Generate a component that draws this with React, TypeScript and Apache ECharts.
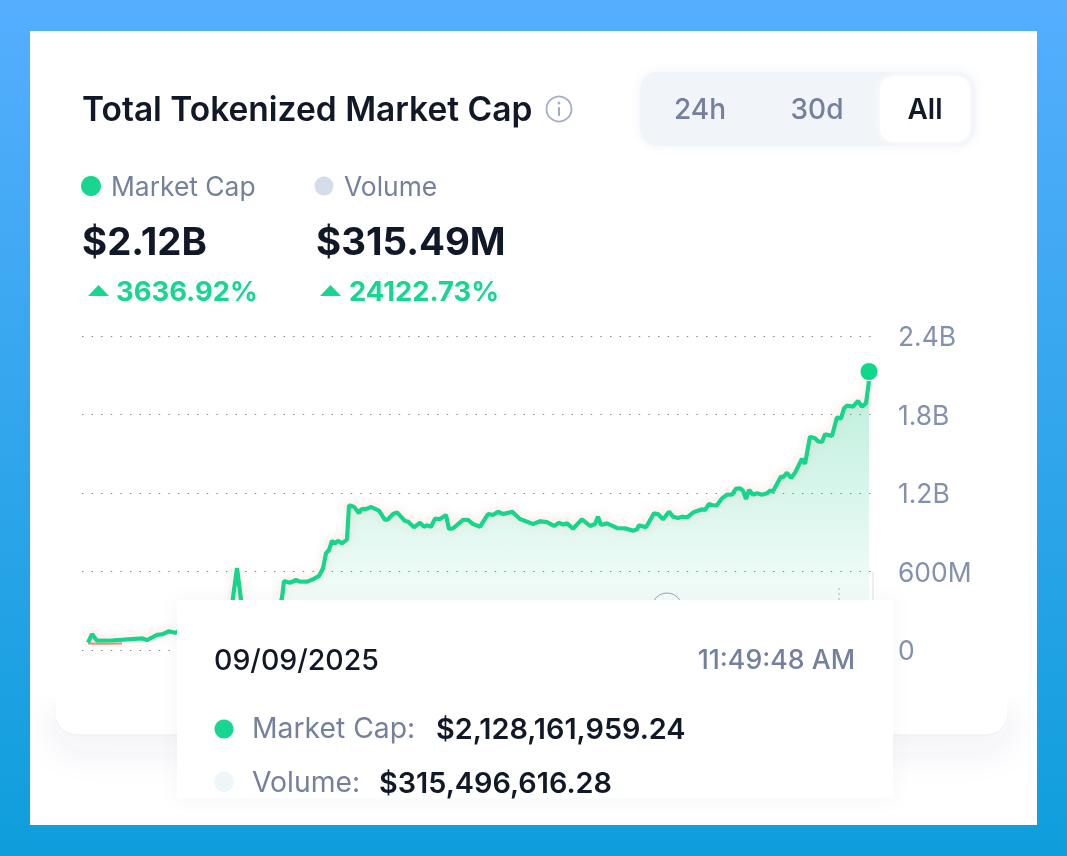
import React, { useEffect, useRef } from "react";
import * as echarts from "echarts";

// Horizontal position of each reading along the (unlabelled) time axis
const days = [
  0, 4, 9, 25, 54, 59, 69, 75, 81, 87,
  102, 117, 132, 144, 149, 153, 158, 177, 190, 194,
  196, 202, 208, 212, 219, 225, 231, 235, 238, 241, 244, 247, 250, 254, 259, 261,
  266, 271, 273, 279, 283, 291, 297, 300, 305, 309, 317, 320, 326, 332, 336, 339, 343, 347, 352, 358, 361, 365, 375, 380, 385, 392,
  400, 405, 410, 415, 424, 432, 445, 452, 459, 466, 471, 475, 479, 485, 494, 502, 507, 510, 513, 519, 529, 537, 545, 549, 551, 558,
  566, 570, 575, 581, 585, 590, 594, 599, 606, 614, 617, 621, 624, 629, 634, 639, 644, 648, 652, 655, 658, 661, 665, 669, 674, 679, 682, 685,
  693, 695, 699, 703, 707, 714, 717, 722, 727, 730, 734, 737, 744, 749, 753, 756, 759, 765, 770, 774, 778, 780.7, 781,
];

// Market cap in millions of dollars; the stretch behind the tooltip is estimated
const marketCap = [
  56, 122, 71, 74, 89, 76, 115, 122, 143, 132,
  168, 214, 267, 344, 627, 382, 214, 267, 306, 397,
  527, 514, 535, 522, 522, 540, 566, 624, 739, 764, 835, 815, 835, 815, 846, 1106,
  1095, 1045, 1075, 1080, 1093, 1065, 994, 999, 1039, 1052, 986, 981, 938, 973, 942, 953, 942, 1004, 1001, 1032, 925, 930, 994, 994, 963, 942,
  1039, 1032, 1057, 1039, 1057, 1001, 963, 984, 978, 948, 973, 958, 968, 927, 999, 948, 963, 1019, 955, 968, 932, 930, 912, 923, 953, 938,
  1045, 1039, 999, 1057, 1019, 1009, 1019, 1014, 1055, 1075, 1070, 1116, 1108, 1106, 1159, 1187, 1187, 1233, 1236, 1218, 1154, 1223, 1187, 1198, 1187, 1198, 1218, 1213,
  1325, 1320, 1355, 1315, 1355, 1462, 1422, 1630, 1618, 1595, 1590, 1649, 1636, 1779, 1768, 1847, 1867, 1860, 1903, 1860, 1886, 2038, 2128,
];

// Only the first stretch of the volume line shows from under the market-cap line
const volumeDays = [0, 12, 34];
const volumeValues = [50, 48, 50];

const axisTicks = [0, 600, 1200, 1800, 2400];
const axisLabels = ["0", "600M", "1.2B", "1.8B", "2.4B"];

const titleText = "Total Tokenized Market Cap";
const rangeLabels = ["24h", "30d", "All"];
const legendNames = ["Market Cap", "Volume"];
const legendValues = ["$2.12B", "$315.49M"];
const legendChanges = ["3636.92%", "24122.73%"];
const tooltipDate = "09/09/2025";
const tooltipTime = "11:49:48 AM";
const tooltipNames = ["Market Cap:", "Volume:"];
const tooltipValues = ["$2,128,161,959.24", "$315,496,616.28"];

const FONT = "Inter, 'Noto Sans', sans-serif";
const GREEN = "#17d68f";
const DARK = "#111827";
const MUTED = "#74809c";

const txt = (text: string, x: number, y: number, size: number, weight: number, fill: string, z: number, align = "left") => ({
  type: "text",
  z,
  style: { text, x, y, fontFamily: FONT, fontSize: size, fontWeight: weight, fill, textAlign: align, textVerticalAlign: "middle" },
});
const dot = (cx: number, cy: number, r: number, fill: string, z: number) => ({
  type: "circle", z, shape: { cx, cy, r }, style: { fill },
});
const tri = (x: number, y: number, z: number) => ({
  type: "polygon", z,
  shape: { points: [[x, y + 11], [x + 10.5, y], [x + 21, y + 11]] },
  style: { fill: GREEN },
});

export default function App() {
  const ref = useRef<HTMLDivElement>(null);
  useEffect(() => {
    document.body.style.margin = "0";
    const chart = echarts.init(ref.current!, undefined, { renderer: "svg" });
    const BG = -20;
    const TOP = 100;
    const capPoints = days.map((d, i) => [d, marketCap[i]]);
    chart.setOption({
      animation: false,
      grid: { left: 82, right: 189, top: 336, height: 314, containLabel: false },
      xAxis: { type: "value", min: -6, max: 790, show: false },
      yAxis: {
        type: "value",
        position: "right",
        min: 0,
        max: 2400,
        interval: 600,
        axisLine: { show: false },
        axisTick: { show: false },
        axisLabel: {
          margin: 20,
          fontFamily: FONT,
          fontSize: 26.4,
          color: "#8491ae",
          formatter: (v: number) => axisLabels[axisTicks.indexOf(v)] ?? "",
        },
        splitLine: { show: true, lineStyle: { type: [1.4, 8.2], color: "#7d828c", width: 1.2 } },
      },
      series: [
        {
          type: "line",
          name: "Volume",
          data: volumeDays.map((d, i) => [d, volumeValues[i]]),
          showSymbol: false,
          lineStyle: { color: "#ee8a70", width: 2 },
          z: 2,
        },
        {
          type: "line",
          name: "Market Cap",
          data: capPoints,
          showSymbol: false,
          lineStyle: { color: GREEN, width: 4.3, shadowColor: "rgba(255,90,90,0.2)", shadowBlur: 9, shadowOffsetY: -1 },
          areaStyle: {
            color: new echarts.graphic.LinearGradient(0, 0, 0, 1, [
              { offset: 0, color: "rgba(23,200,135,0.42)" },
              { offset: 1, color: "rgba(23,200,135,0)" },
            ]),
          },
          z: 3,
        },
        {
          type: "scatter",
          name: "Latest",
          data: [capPoints[capPoints.length - 1]],
          symbolSize: 18,
          itemStyle: { color: "#0cd98a", opacity: 1, borderColor: "#ffffff", borderWidth: 1 },
          z: 4,
        },
      ],
      graphic: {
        elements: [
          // page, card and inner panel
          {
            type: "rect", z: BG, shape: { x: 0, y: 0, width: 1067, height: 856 },
            style: {
              fill: new echarts.graphic.LinearGradient(0, 0, 0, 1, [
                { offset: 0, color: "#56aeff" },
                { offset: 1, color: "#0e9edb" },
              ]),
            },
          },
          { type: "rect", z: BG + 1, shape: { x: 30, y: 31, width: 1007, height: 794 }, style: { fill: "#ffffff" } },
          {
            type: "rect", z: BG + 2, shape: { x: 55, y: 60, width: 953, height: 675, r: 22 },
            style: { fill: "#ffffff", stroke: "#e9ecf5", lineWidth: 1, shadowColor: "rgba(70,80,130,0.07)", shadowBlur: 34, shadowOffsetY: 16 },
          },
          {
            type: "rect", z: BG + 3, shape: { x: 30, y: 31, width: 1007, height: 697 },
            style: {
              fill: new echarts.graphic.LinearGradient(0, 0, 0, 1, [
                { offset: 0, color: "rgba(255,255,255,1)" },
                { offset: 0.95, color: "rgba(255,255,255,1)" },
                { offset: 1, color: "rgba(255,255,255,0)" },
              ]),
            },
          },

          // header
          txt(titleText, 82, 109, 33.5, 600, DARK, 10),
          { type: "circle", z: 10, shape: { cx: 559, cy: 109, r: 12.5 }, style: { fill: "none", stroke: "#a3aec6", lineWidth: 1.8 } },
          { type: "circle", z: 10, shape: { cx: 559, cy: 103, r: 1.4 }, style: { fill: "#a3aec6" } },
          { type: "rect", z: 10, shape: { x: 558, y: 107, width: 2, height: 9 }, style: { fill: "#a3aec6" } },

          // range switch
          {
            type: "rect", z: 10, shape: { x: 640, y: 72, width: 335, height: 74, r: 18 },
            style: { fill: "#f1f4f8", shadowColor: "rgba(170,195,225,0.22)", shadowBlur: 10 },
          },
          {
            type: "rect", z: 11, shape: { x: 880, y: 76, width: 90, height: 66, r: 14 },
            style: { fill: "#ffffff", shadowColor: "rgba(255,255,255,0.9)", shadowBlur: 8 },
          },
          txt(rangeLabels[0], 700, 109, 28, 500, MUTED, 12, "center"),
          txt(rangeLabels[1], 817, 109, 28, 500, MUTED, 12, "center"),
          txt(rangeLabels[2], 925, 109, 28, 600, DARK, 12, "center"),

          // legend
          dot(91, 186, 10, GREEN, 10),
          txt(legendNames[0], 111, 186, 26.4, 400, MUTED, 10),
          dot(324, 186, 9.5, "#d5dcea", 10),
          txt(legendNames[1], 344, 186, 26.4, 400, MUTED, 10),
          txt(legendValues[0], 82, 241, 38.4, 700, DARK, 10),
          txt(legendValues[1], 316, 241, 38.4, 700, DARK, 10),
          tri(88, 285, 10),
          txt(legendChanges[0], 116, 291, 27.4, 700, GREEN, 10),
          tri(320, 285, 10),
          txt(legendChanges[1], 349, 291, 27.4, 700, GREEN, 10),

          // crosshair traces peeking out above the tooltip
          { type: "circle", z: 6, shape: { cx: 667, cy: 608, r: 15 }, style: { fill: "none", stroke: "#9aa3b5", lineWidth: 1 } },
          { type: "line", z: 6, shape: { x1: 873, y1: 572, x2: 873, y2: 600 }, style: { stroke: "#d9dce3", lineWidth: 1 } },
          { type: "line", z: 6, shape: { x1: 839, y1: 588, x2: 839, y2: 600 }, style: { stroke: "#a8adb8", lineWidth: 1, lineDash: [2, 3] } },

          // tooltip
          {
            type: "rect", z: TOP, shape: { x: 177, y: 600, width: 716, height: 198 },
            style: { fill: "#ffffff", shadowColor: "rgba(90,100,140,0.05)", shadowBlur: 18 },
          },
          txt(tooltipDate, 214, 659, 28.5, 500, DARK, TOP + 1),
          txt(tooltipTime, 855, 659, 26.7, 500, MUTED, TOP + 1, "right"),
          dot(224, 729, 9.5, GREEN, TOP + 1),
          txt(tooltipNames[0], 252, 728, 28.3, 400, MUTED, TOP + 1),
          txt(tooltipValues[0], 436, 728, 28.8, 600, DARK, TOP + 1),
          dot(224, 782, 10, "#eff6fa", TOP + 1),
          txt(tooltipNames[1], 252, 782, 28.3, 400, MUTED, TOP + 1),
          txt(tooltipValues[1], 379, 782, 28.8, 600, DARK, TOP + 1),
        ],
      },
    });
    return () => chart.dispose();
  }, []);
  return <div ref={ref} style={{ position: "fixed", left: 0, top: 0, width: 1067, height: 856 }} />;
}
